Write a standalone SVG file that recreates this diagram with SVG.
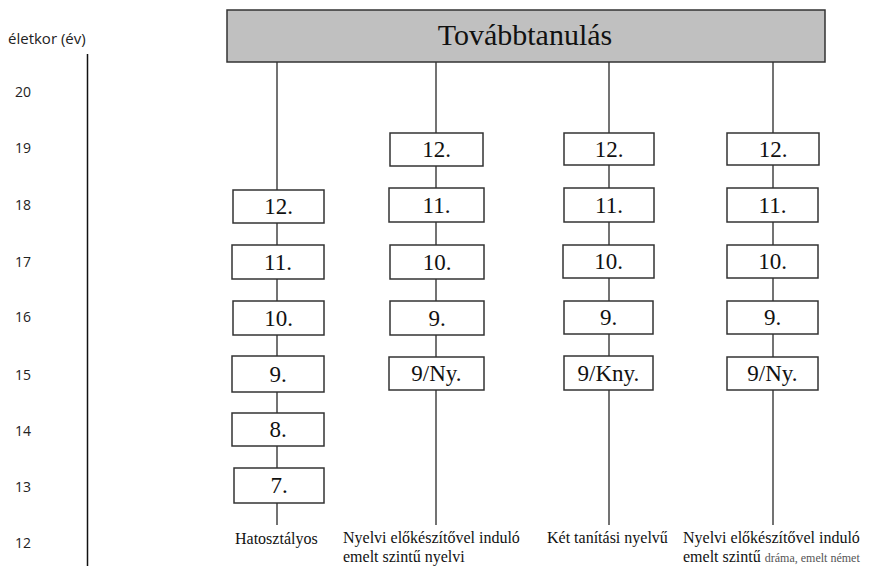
<svg xmlns="http://www.w3.org/2000/svg" width="883" height="566" viewBox="0 0 883 566">
<style>
.bx{fill:#fff;stroke:#333;stroke-width:1.5}
.bt{font-family:"Liberation Serif","Times New Roman",serif;font-size:23px;fill:#111;text-anchor:middle}
.ln{stroke:#444;stroke-width:1.5;fill:none}
.age{font-family:"Open Sans","Liberation Sans",sans-serif;font-size:14px;fill:#222}
.lb{font-family:"Liberation Serif","Times New Roman",serif;font-size:16px;fill:#111}
.sm{font-size:12px;fill:#555}
</style>
<rect width="883" height="566" fill="#fff"/>
<g id="axis">
<text class="age" x="8" y="44" style="font-size:15px">életkor (év)</text>
<line x1="87.5" y1="54" x2="87.5" y2="566" stroke="#111" stroke-width="1.5"/>
<text class="age" x="15" y="97">20</text>
<text class="age" x="15" y="153">19</text>
<text class="age" x="15" y="210">18</text>
<text class="age" x="15" y="267">17</text>
<text class="age" x="15" y="322">16</text>
<text class="age" x="15" y="380">15</text>
<text class="age" x="15" y="436">14</text>
<text class="age" x="15" y="492">13</text>
<text class="age" x="15" y="548">12</text>
</g>
<g id="connectors">
<line class="ln" x1="277" y1="62" x2="277" y2="525"/>
<line class="ln" x1="436" y1="62" x2="436" y2="525"/>
<line class="ln" x1="609" y1="62" x2="609" y2="525"/>
<line class="ln" x1="773" y1="62" x2="773" y2="525"/>
</g>
<g id="header">
<rect x="227" y="10" width="598" height="52" fill="#c0c0c0" stroke="#333" stroke-width="1.5"/>
<text x="525" y="45" style="font-family:'Liberation Serif','Times New Roman',serif;font-size:30px;fill:#111;text-anchor:middle">Továbbtanulás</text>
</g>
<g id="col1">
<g id="c1-12"><rect class="bx" x="233" y="190" width="91" height="33"/><text class="bt" x="278.5" y="214">12.</text></g>
<g id="c1-11"><rect class="bx" x="232" y="245" width="92" height="34"/><text class="bt" x="278" y="270">11.</text></g>
<g id="c1-10"><rect class="bx" x="233" y="301" width="91" height="34"/><text class="bt" x="278.5" y="326">10.</text></g>
<g id="c1-9"><rect class="bx" x="232" y="356" width="92" height="36"/><text class="bt" x="278" y="382">9.</text></g>
<g id="c1-8"><rect class="bx" x="232" y="413" width="92" height="33"/><text class="bt" x="278" y="437">8.</text></g>
<g id="c1-7"><rect class="bx" x="234" y="468" width="90" height="35"/><text class="bt" x="279" y="493">7.</text></g>
<text class="lb" x="235" y="544">Hatosztályos</text>
</g>
<g id="col2">
<g id="c2-12"><rect class="bx" x="390" y="133" width="93" height="33"/><text class="bt" x="436.5" y="157">12.</text></g>
<g id="c2-11"><rect class="bx" x="389" y="188" width="95" height="34"/><text class="bt" x="436.5" y="213">11.</text></g>
<g id="c2-10"><rect class="bx" x="390" y="245" width="94" height="34"/><text class="bt" x="437" y="270">10.</text></g>
<g id="c2-9"><rect class="bx" x="390" y="301" width="94" height="34"/><text class="bt" x="437" y="326">9.</text></g>
<g id="c2-9ny"><rect class="bx" x="389" y="357" width="95" height="33"/><text class="bt" x="436.5" y="381">9/Ny.</text></g>
<text class="lb" x="343" y="543">Nyelvi előkészítővel induló</text>
<text class="lb" x="343" y="562">emelt szintű nyelvi</text>
</g>
<g id="col3">
<g id="c3-12"><rect class="bx" x="564" y="133" width="90" height="32"/><text class="bt" x="609" y="157">12.</text></g>
<g id="c3-11"><rect class="bx" x="564" y="188" width="90" height="34"/><text class="bt" x="609" y="213">11.</text></g>
<g id="c3-10"><rect class="bx" x="563" y="245" width="91" height="33"/><text class="bt" x="608.5" y="269">10.</text></g>
<g id="c3-9"><rect class="bx" x="564" y="301" width="89" height="33"/><text class="bt" x="608.5" y="325">9.</text></g>
<g id="c3-9kny"><rect class="bx" x="564" y="356" width="89" height="34"/><text class="bt" x="608.5" y="381">9/Kny.</text></g>
<text class="lb" x="547" y="543">Két tanítási nyelvű</text>
</g>
<g id="col4">
<g id="c4-12"><rect class="bx" x="727" y="133" width="92" height="32"/><text class="bt" x="773" y="157">12.</text></g>
<g id="c4-11"><rect class="bx" x="727" y="188" width="91" height="34"/><text class="bt" x="772.5" y="213">11.</text></g>
<g id="c4-10"><rect class="bx" x="727" y="245" width="91" height="33"/><text class="bt" x="772.5" y="269">10.</text></g>
<g id="c4-9"><rect class="bx" x="727" y="301" width="91" height="33"/><text class="bt" x="772.5" y="325">9.</text></g>
<g id="c4-9ny"><rect class="bx" x="727" y="357" width="91" height="33"/><text class="bt" x="772.5" y="381">9/Ny.</text></g>
<text class="lb" x="683" y="543">Nyelvi előkészítővel induló</text>
<text class="lb" x="683" y="562">emelt szintű <tspan class="sm">dráma, emelt német</tspan></text>
</g>
</svg>
